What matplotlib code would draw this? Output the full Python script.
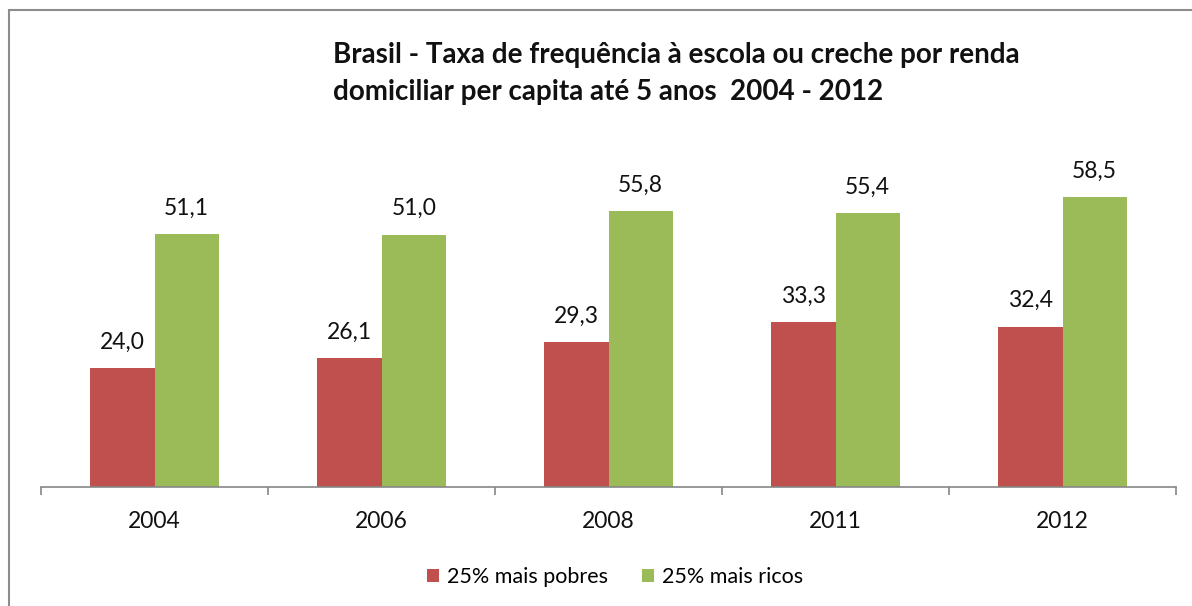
import numpy as np
import matplotlib.pyplot as plt
from matplotlib.patches import Rectangle

# Dados
anos = ['2004', '2006', '2008', '2011', '2012']
pobres = [24.0, 26.1, 29.3, 33.3, 32.4]
ricos = [51.1, 51.0, 55.8, 55.4, 58.5]
rotulos = ['25% mais pobres', '25% mais ricos']

plt.rcParams['font.family'] = ['Lato', 'DejaVu Sans']

W, H = 1192, 606
fig = plt.figure(figsize=(W / 100, H / 100), dpi=100)
fig.patch.set_facecolor('white')

# moldura do grafico
fig.patches.append(Rectangle((9 / W, -0.1), 1.2, 1.1 - 10 / H, transform=fig.transFigure,
                             fill=False, edgecolor='#8c8c8c', linewidth=1.5))

ax = fig.add_axes([41 / W, (H - 487) / H, (1176 - 41) / W, 346.5 / H])

x = np.arange(len(anos))
larg = 0.284
b1 = ax.bar(x - larg / 2, pobres, larg, color='#C0504D', label=rotulos[0])
b2 = ax.bar(x + larg / 2, ricos, larg, color='#9BBB59', label=rotulos[1])

for barras in (b1, b2):
    for b in barras:
        v = b.get_height()
        ax.annotate(f'{v:.1f}'.replace('.', ','), (b.get_x() + b.get_width() / 2, v),
                    xytext=(0, 11), textcoords='offset points', ha='center', va='bottom',
                    fontsize=16.5, color='#111111')

ax.set_xlim(-0.5, len(anos) - 0.5)
ax.set_ylim(0, 70)
ax.set_yticks([])
for s in ['top', 'right', 'left']:
    ax.spines[s].set_visible(False)
ax.spines['bottom'].set_color('#868686')
ax.spines['bottom'].set_linewidth(1.2)

ax.set_xticks(x)
ax.set_xticklabels(anos, fontsize=16.5, color='#111111')
ax.tick_params(axis='x', which='major', length=0, pad=17)
ax.set_xticks(np.arange(-0.5, len(anos), 1), minor=True)
ax.tick_params(axis='x', which='minor', length=6, color='#868686', width=1.2)

fig.text(333 / W, 1 - 55 / H, 'Brasil - Taxa de frequência à escola ou creche por renda',
         fontsize=20, fontweight='bold', va='center', ha='left', color='#111111')
fig.text(333 / W, 1 - 92 / H, 'domiciliar per capita até 5 anos  2004 - 2012',
         fontsize=20, fontweight='bold', va='center', ha='left', color='#111111')

fig.legend(loc='center', bbox_to_anchor=(615 / W, 1 - 577 / H), ncol=2, frameon=False,
           fontsize=15.5, handlelength=0.55, handleheight=0.55, handletextpad=0.35,
           columnspacing=1.6)

fig.savefig('out.png', dpi=100)
